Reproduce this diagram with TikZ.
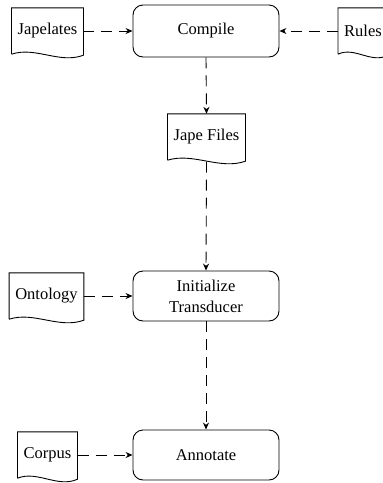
\documentclass[tikz,border=0pt]{standalone}
\usepackage{fontspec}
\setmainfont{Liberation Serif}
\usetikzlibrary{arrows.meta,calc}
\tikzset{
  procbox/.style={draw, line width=0.9pt, rounded corners=10pt, minimum width=146pt, minimum height=50pt, align=center, inner sep=2pt},
  docnode/.style={inner xsep=6pt, inner ysep=2pt, minimum height=46pt, anchor=center},
  docline/.style={draw, line width=0.9pt, line join=miter},
  flow/.style={draw, line width=0.9pt, dash pattern=on 11pt off 7pt, -{Stealth[length=7pt,width=6pt]}}
}
\newcommand\docoutline[1]{\draw[docline] (#1.south west) -- (#1.north west) -- (#1.north east) -- ($(#1.south east)+(0,1)$) .. controls ($(#1.south east)!0.33!(#1.south west)+(0,10)$) and ($(#1.south east)!0.67!(#1.south west)+(0,-8)$) .. (#1.south west);}
\begin{document}
\begin{tikzpicture}[x=1pt,y=-1pt,font=\fontsize{16.5}{21}\selectfont]
\useasboundingbox (0,0) rectangle (383,483);
\clip (0,0) rectangle (383,483);
\node[procbox, minimum height=52pt] (compile) at (206,31) {Compile};
\node[procbox] (init) at (206,296) {Initialize\\Transducer};
\node[procbox] (annot) at (206,455) {Annotate};
\node[docnode] (japelates) at (47.5,31) {Japelates};
\node[docnode, anchor=west] (rules) at (338,31) {Rules};
\node[docnode] (jape) at (206.5,137) {Jape Files};
\node[docnode] (onto) at (46.5,296) {Ontology};
\node[docnode] (corpus) at (47.5,455) {Corpus};
\docoutline{japelates}
\docoutline{rules}
\docoutline{jape}
\docoutline{onto}
\docoutline{corpus}
\draw[flow] (japelates.east) -- (compile.west);
\draw[flow] (rules.west) -- (compile.east);
\draw[flow] (compile.south) -- (jape.north);
\coordinate (japeout) at ($(jape.south)+(0,1.5)$);
\draw[flow] (japeout) -- (init.north);
\draw[flow] (onto.east) -- (init.west);
\draw[flow] (init.south) -- (annot.north);
\draw[flow] (corpus.east) -- (annot.west);
\end{tikzpicture}
\end{document}
